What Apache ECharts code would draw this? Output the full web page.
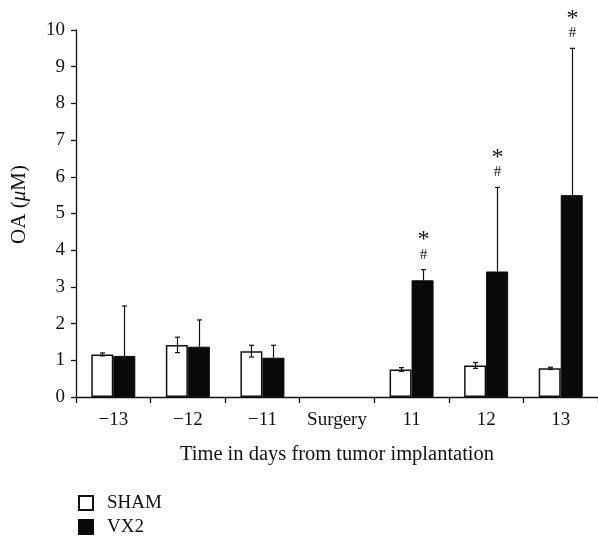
<!DOCTYPE html>
<html>
<head>
<meta charset="utf-8">
<script src="https://cdn.jsdelivr.net/npm/echarts@6/dist/echarts.min.js"></script>
<style>
  html, body { margin: 0; padding: 0; background: #fff; }
  #chart { width: 598px; height: 541px; }
</style>
</head>
<body>
<div id="chart"></div>
<script>
// Plasma OA concentration by day relative to tumor implantation
const categories = ['\u221213', '\u221212', '\u221211', 'Surgery', '11', '12', '13'];
const shamMean = [1.16, 1.42, 1.25, null, 0.75, 0.86, 0.78];
const shamErr  = [0.04, 0.21, 0.16, null, 0.05, 0.08, 0.03];
const vx2Mean  = [1.12, 1.37, 1.07, null, 3.18, 3.42, 5.50];
const vx2Err   = [1.36, 0.73, 0.34, null, 0.29, 2.29, 4.00];
// significance markers drawn above the VX2 error bars
const vx2Marks = ['', '', '', '', '*#', '*#', '*#'];
const yTicks = [0, 1, 2, 3, 4, 5, 6, 7, 8, 9, 10];

const SERIF = '"Liberation Serif", "DejaVu Serif", serif';
const BAR_W = 22;

function errData(mean, err) {
  const out = [];
  mean.forEach((m, i) => {
    if (m == null) return;
    out.push([i, m, err[i]]);
  });
  return out;
}

function errorRenderer(side, bothSides, marks) {
  return function (params, api) {
    const idx = api.value(0);
    const mean = api.value(1);
    const err = api.value(2);
    const mark = marks ? marks[idx] : '';
    const base = api.coord([idx, mean]);
    const top = api.coord([idx, mean + err]);
    const bot = api.coord([idx, mean - err]);
    const x = Math.round(base[0] + side * BAR_W / 2) + 0.5;
    const cap = 2.5;
    const st = { stroke: '#111', lineWidth: 1.2 };
    const children = [
      { type: 'line', shape: { x1: x, y1: top[1], x2: x, y2: bothSides ? bot[1] : base[1] }, style: st },
      { type: 'line', shape: { x1: x - cap, y1: top[1], x2: x + cap, y2: top[1] }, style: st }
    ];
    if (bothSides) {
      children.push({ type: 'line', shape: { x1: x - cap, y1: bot[1], x2: x + cap, y2: bot[1] }, style: st });
    }
    if (mark && mark.indexOf('#') >= 0) {
      children.push({ type: 'text', style: { text: '#', x: x, y: top[1] - 15, align: 'center', verticalAlign: 'middle',
        font: '15px ' + SERIF, fill: '#111' } });
    }
    if (mark && mark.indexOf('*') >= 0) {
      children.push({ type: 'text', style: { text: '*', x: x, y: top[1] - 30, align: 'center', verticalAlign: 'middle',
        font: '24px ' + SERIF, fill: '#111' } });
    }
    return { type: 'group', children: children };
  };
}

const chart = echarts.init(document.getElementById('chart'), null, { renderer: 'canvas' });
chart.setOption({
  animation: false,
  backgroundColor: '#fff',
  textStyle: { fontFamily: SERIF, color: '#111' },
  grid: { left: 76, top: 30, width: 525, height: 367, containLabel: false },
  legend: {
    orient: 'vertical',
    left: 78,
    top: 493,
    height: 48,
    padding: 0,
    itemWidth: 14,
    itemHeight: 14,
    itemGap: 4,
    icon: 'rect',
    textStyle: { fontFamily: SERIF, fontSize: 19, lineHeight: 20, color: '#111', padding: [0, 0, 0, 9] },
    data: ['SHAM', 'VX2']
  },
  xAxis: {
    type: 'category',
    data: categories,
    boundaryGap: true,
    name: 'Time in days from tumor implantation',
    nameLocation: 'middle',
    nameGap: 47,
    nameTextStyle: { fontFamily: SERIF, fontSize: 20.5, color: '#111' },
    axisLine: { lineStyle: { color: '#111', width: 1.3 } },
    axisTick: { show: true, length: 6, inside: false, lineStyle: { color: '#111', width: 1.3 } },
    axisLabel: { fontFamily: SERIF, fontSize: 19, color: '#111', margin: 14, interval: 0 },
    splitLine: { show: false }
  },
  yAxis: {
    type: 'value',
    min: yTicks[0],
    max: yTicks[yTicks.length - 1],
    interval: 1,
    name: 'OA ({i|\u03bc}M)',
    nameLocation: 'middle',
    nameGap: 46,
    nameRotate: 90,
    nameTextStyle: { fontFamily: SERIF, fontSize: 21, color: '#111', padding: [0, 0, 0, 18],
      rich: { i: { fontFamily: SERIF, fontStyle: 'italic', fontSize: 21, color: '#111' } } },
    axisLine: { show: true, lineStyle: { color: '#111', width: 1.3 } },
    axisTick: { show: true, length: 5, lineStyle: { color: '#111', width: 1.3 } },
    axisLabel: { fontFamily: SERIF, fontSize: 19, color: '#111', margin: 11 },
    splitLine: { show: false }
  },
  series: [
    {
      name: 'SHAM',
      type: 'bar',
      data: shamMean,
      barWidth: BAR_W,
      barGap: '0%',
      itemStyle: { color: '#fff', borderColor: '#111', borderWidth: 1.5 },
      z: 2
    },
    {
      name: 'VX2',
      type: 'bar',
      data: vx2Mean,
      barWidth: BAR_W,
      barGap: '0%',
      itemStyle: { color: '#0a0a0a', borderColor: '#0a0a0a', borderWidth: 1 },
      z: 2
    },
    {
      name: 'shamErr',
      type: 'custom',
      renderItem: errorRenderer(-1, true, null),
      data: errData(shamMean, shamErr),
      encode: { x: 0, y: 1 },
      z: 3,
      silent: true
    },
    {
      name: 'vx2Err',
      type: 'custom',
      renderItem: errorRenderer(1, false, vx2Marks),
      data: errData(vx2Mean, vx2Err),
      encode: { x: 0, y: 1 },
      z: 3,
      silent: true
    }
  ]
});
</script>
</body>
</html>
